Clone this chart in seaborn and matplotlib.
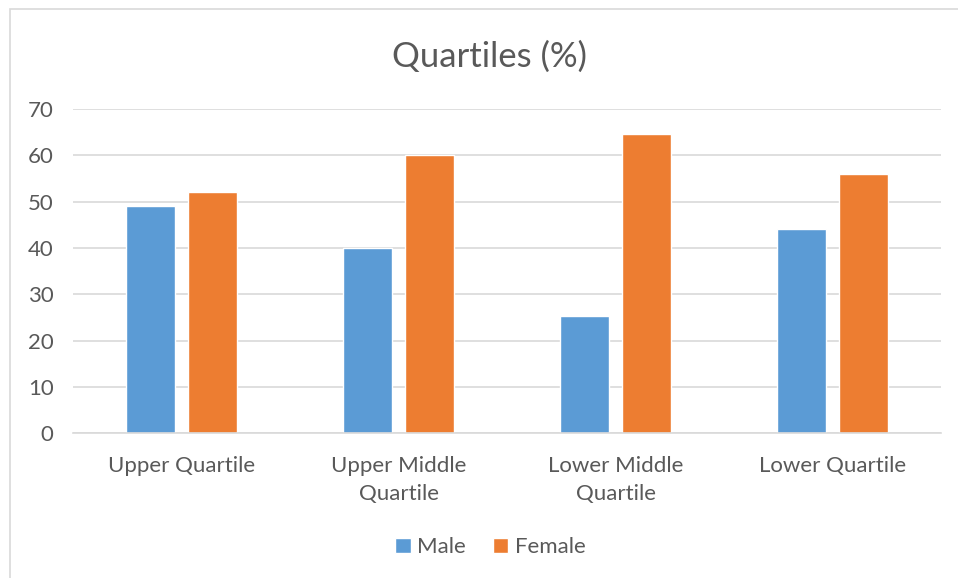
import matplotlib
matplotlib.use("Agg")
import matplotlib.pyplot as plt
import seaborn as sns
import pandas as pd

categories = ["Upper Quartile", "Upper Middle\nQuartile", "Lower Middle\nQuartile", "Lower Quartile"]
male = [49, 40, 25.3, 44]
female = [52, 60, 64.7, 56]
series = ["Male", "Female"]
colors = ["#5B9BD5", "#ED7D31"]

df = pd.DataFrame({
    "category": categories * 2,
    "value": male + female,
    "sex": [series[0]] * 4 + [series[1]] * 4,
})

sns.set_theme(style="white")
plt.rcParams["font.family"] = ["Lato", "DejaVu Sans"]
txt = "#595959"

fig = plt.figure(figsize=(9.58, 5.78), dpi=100)
ax = fig.add_axes([0.0762, 0.2503, 0.9061, 0.5611])

sns.barplot(data=df, x="category", y="value", hue="sex", order=categories,
            hue_order=series, palette=colors, width=0.572, gap=0.217,
            saturation=1, ax=ax, legend=True)

ax.set_ylim(0, 70)
ax.set_xlim(-0.5, 3.5)
ax.set_yticks(range(0, 80, 10))
ax.yaxis.grid(True, color="#D9D9D9", lw=1.2)
ax.set_axisbelow(True)
for s in ["left", "right", "top"]:
    ax.spines[s].set_visible(False)
ax.spines["bottom"].set_color("#D9D9D9")
ax.spines["bottom"].set_linewidth(1.2)
ax.tick_params(axis="y", length=0, labelsize=16, labelcolor=txt, pad=14)
ax.tick_params(axis="x", length=0, labelsize=16, labelcolor=txt, pad=16.5)
for lab in ax.get_xticklabels():
    lab.set_linespacing(1.5)
ax.set_xlabel("")
ax.set_ylabel("")

ax.legend(loc="center", bbox_to_anchor=(0.512, 0.053), bbox_transform=fig.transFigure,
          ncol=2, frameon=False, fontsize=16, labelcolor=txt,
          handlelength=0.7, handleheight=0.7, handletextpad=0.3, columnspacing=1.2)

fig.text(0.511, 0.902, "Quartiles (%)", ha="center", va="center", fontsize=25, color=txt)

fig.patches.append(plt.Rectangle((10 / 958, -0.1), 1.2, 1 - 9 / 578 + 0.1,
                                 transform=fig.transFigure, fill=False,
                                 edgecolor="#D9D9D9", lw=1.2))

fig.savefig("out.png", dpi=100, facecolor="white")
